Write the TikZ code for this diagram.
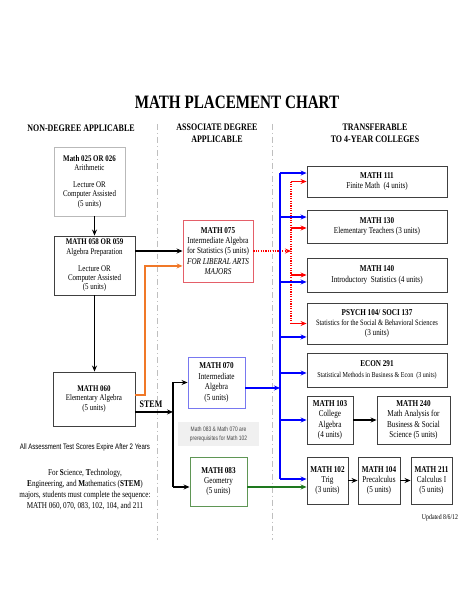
\documentclass[tikz,border=0pt]{standalone}
\usepackage{fontspec}
\setmainfont{Liberation Serif}[FakeStretch=0.8]
\newfontfamily\narrowsans{Liberation Sans}[FakeStretch=0.76]
\usetikzlibrary{arrows.meta,positioning}
\definecolor{libarts}{RGB}{240,120,40}
\definecolor{stemgreen}{RGB}{30,120,30}
\definecolor{boxred}{RGB}{228,95,105}
\definecolor{boxblue}{RGB}{120,120,240}
\definecolor{boxgreen}{RGB}{95,150,85}

\begin{document}
\begin{tikzpicture}[x=1bp,y=-1bp,
  course/.style={draw=black!75,line width=0.9pt,align=center,inner sep=0pt,font=\fontsize{8.7}{9.3}\selectfont},
  midcourse/.style={course,font=\fontsize{9}{10.5}\selectfont},
  wide/.style={course,minimum width=140bp,font=\fontsize{9}{10.5}\selectfont},
  small/.style={course,font=\fontsize{9}{10.3}\selectfont},
  header/.style={align=center,font=\bfseries\fontsize{10}{12}\selectfont},
  arr/.style={-{Stealth[length=6pt,width=5pt]},line width=1.1pt},
  divider/.style={gray!50,line width=0.8pt,dash pattern=on 6pt off 3pt on 1pt off 3pt}]
\useasboundingbox (0,0) rectangle (474,613);

% headings
\node[font=\bfseries\fontsize{19}{22}\selectfont] (title) at (237,102) {MATH PLACEMENT CHART};
\node[header] (hnon) at (81,128) {NON-DEGREE APPLICABLE};
\node[header] (hassoc) at (217,133) {ASSOCIATE DEGREE\\APPLICABLE};
\node[header] (htrans) at (375,133) {TRANSFERABLE\\TO 4-YEAR COLLEGES};
\draw[divider] (157,124) -- (157,540);
\draw[divider] (272,124) -- (272,540);

% non-degree column
\node[course,draw=gray!55,minimum width=71bp,minimum height=69bp] (m025) at (89.5,181.5) {\textbf{Math 025 OR 026}\\Arithmetic\\[8pt]Lecture OR\\Computer Assisted\\(5 units)};
\node[course,minimum width=81bp,minimum height=59bp] (m058) at (94.5,265.5) {\textbf{MATH 058 OR 059}\\Algebra Preparation\\[8pt]Lecture OR\\Computer Assisted\\(5 units)};
\node[course,minimum width=82bp,minimum height=54bp] (m060) at (94,399) {\textbf{MATH 060}\\Elementary Algebra\\(5 units)};
\node[font=\bfseries\fontsize{10}{12}\selectfont] (stem) at (151,404) {STEM};
\node[font=\narrowsans\fontsize{8}{9}\selectfont] (expire) at (85,447) {All Assessment Test Scores Expire After 2 Years};
\node[align=center,font=\fontsize{9}{11}\selectfont] (stemnote) at (85,490) {For \textbf{S}cience, \textbf{T}echnology,\\\textbf{E}ngineering, and \textbf{M}athematics (\textbf{STEM})\\majors, students must complete the sequence:\\MATH 060, 070, 083, 102, 104, and 211};

% associate degree column
\node[midcourse,draw=boxred,minimum width=70bp,minimum height=62bp] (m075) at (218,251) {\textbf{MATH 075}\\Intermediate Algebra\\for Statistics (5 units)\\\textit{FOR LIBERAL ARTS}\\\textit{MAJORS}};
\node[midcourse,draw=boxblue,minimum width=57bp,minimum height=51bp] (m070) at (216.5,382.5) {\textbf{MATH 070}\\Intermediate\\Algebra\\(5 units)};
\node[fill=gray!12,text=gray!55!black,align=center,minimum width=81bp,minimum height=24bp,font=\narrowsans\fontsize{6.5}{9}\selectfont] (note) at (218.5,434) {Math 083 \& Math 070 are\\prerequisites for Math 102};
\node[midcourse,draw=boxgreen,minimum width=57bp,minimum height=49bp] (m083) at (218.5,481.5) {\textbf{MATH 083}\\Geometry\\(5 units)};

% transferable column
\node[wide,minimum height=31bp] (m111) at (377,181.5) {\textbf{MATH 111}\\Finite Math~ (4 units)};
\node[wide,minimum height=33bp] (m130) at (377,226.5) {\textbf{MATH 130}\\Elementary Teachers (3 units)};
\node[wide,minimum height=34bp] (m140) at (377,275) {\textbf{MATH 140}\\Introductory~ Statistics (4 units)};
\node[wide,minimum height=41bp] (psych) at (377,323.5) {\textbf{PSYCH 104/ SOCI 137}\\{\fontsize{8.2}{10.5}\selectfont Statistics for the Social \& Behavioral Sciences}\\(3 units)};
\node[wide,minimum height=34bp] (econ) at (377,370) {\textbf{ECON 291}\\{\fontsize{7.6}{10}\selectfont Statistical Methods in Business \& Econ~ (3 units)}};
\node[small,minimum width=46bp,minimum height=48bp] (m103) at (330,420) {\textbf{MATH 103}\\College\\Algebra\\(4 units)};
\node[small,minimum width=73bp,minimum height=48bp] (m240) at (413.5,420) {\textbf{MATH 240}\\Math Analysis for\\Business \& Social\\Science (5 units)};
\node[small,minimum width=41bp,minimum height=47bp] (m102) at (327.5,480.5) {\textbf{MATH 102}\\Trig\\(3 units)};
\node[small,minimum width=42bp,minimum height=47bp] (m104) at (379,480.5) {\textbf{MATH 104}\\Precalculus\\(5 units)};
\node[small,minimum width=41bp,minimum height=47bp] (m211) at (431.5,480.5) {\textbf{MATH 211}\\Calculus I\\(5 units)};
\node[font=\fontsize{7.3}{8}\selectfont] (updated) at (440,518) {Updated 8/6/12};

% bus lines
\coordinate (bbus) at (280,0);
\coordinate (rbus) at (291,0);
\coordinate (split) at (173,0);
\coordinate (obend) at (145,0);
\coordinate (m075lo) at ([yshift=-15pt]m075.west);
\coordinate (m070out) at ([yshift=-5.5pt]m070.east);
\coordinate (m083in) at ([yshift=-5.5pt]m083.west);
\coordinate (m083out) at ([yshift=-5.5pt]m083.east);
\coordinate (stemout) at ([yshift=-13pt]m060.east);

% black arrows
\draw[arr] (m058.north |- m025.south) -- (m058.north);
\draw[arr] (m058.south) -- (m058.south |- m060.north);
\draw[arr] (m058.east |- m075.west) -- (m075.west);
\draw[arr] (stemout) -- (stemout -| split);
\draw[arr] (split |- m083in) -- (split |- m070.west) -- (m070.west);
\draw[arr] (split |- m083in) -- (m083in);
\draw[arr] (m103) -- (m240);
\draw[arr] (m102) -- (m104);
\draw[arr] (m104) -- (m211);

% liberal arts path
\draw[arr,libarts,line width=1.3pt] ([yshift=4pt]m060.east) -| (obend |- m075lo) -- (m075lo);
\draw[arr,red,dash pattern=on 1.2pt off 1.2pt] (m075.east) -- (m075.east -| rbus);
\draw[red,line width=1.1pt,dash pattern=on 1.2pt off 1.2pt] (rbus |- m111.west) -- (rbus |- psych.west);
\foreach \n/\dy in {m111/0,m130/-1.5,m140/0,psych/0}
  {\coordinate (r\n) at ([yshift=\dy pt]\n.west);
   \draw[arr,red] (r\n -| rbus) -- (r\n);}

% stem path
\foreach \n/\dy in {m111/8.5,m130/9.5,m140/-7,psych/-13.5,econ/-3,m103/0,m102/1.5}
  {\coordinate (b\n) at ([yshift=\dy pt]\n.west);
   \draw[arr,blue,line width=1.3pt] (b\n -| bbus) -- (b\n);}
\draw[blue,line width=1.4pt] (bm111 -| bbus) -- (bm102 -| bbus);
\draw[arr,blue,line width=1.3pt] (m070out) -- (m070out -| bbus);
\draw[arr,stemgreen,line width=1.3pt] (m083out) -- (m083out -| m102.west);
\end{tikzpicture}
\end{document}
